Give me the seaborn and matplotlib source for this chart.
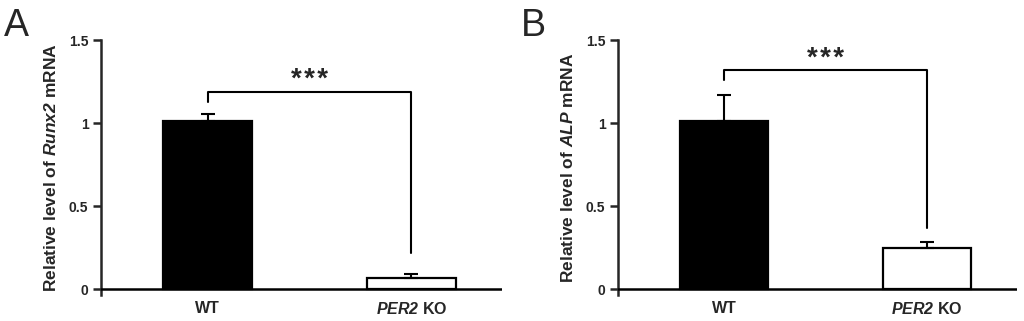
import seaborn as sns
import matplotlib.pyplot as plt
import numpy as np
import pandas as pd

# Dados
grupos = ['WT', 'PER2 KO']
grupos_rotulos = ['WT', r'$\mathbfit{PER2}$ KO']
runx2_media = [1.01, 0.065]
runx2_erro = [0.045, 0.028]
alp_media = [1.01, 0.25]
alp_erro = [0.16, 0.035]
yticks = [0, 0.5, 1, 1.5]
yticks_rotulos = ['0', '0.5', '1', '1.5']
# altura do colchete, ponta esquerda, ponta direita
colchete_runx2 = [1.19, 1.13, 0.22]
colchete_alp = [1.32, 1.26, 0.37]

sns.set_style('ticks')
plt.rcParams['font.family'] = ['Liberation Sans', 'DejaVu Sans']
plt.rcParams['mathtext.fontset'] = 'custom'
plt.rcParams['mathtext.bfit'] = 'Liberation Sans:bold:italic'


def painel(ax, medias, erros, colchete, rotulo_y, letra):
    df = pd.DataFrame({'grupo': grupos, 'valor': medias})
    sns.barplot(data=df, x='grupo', y='valor', hue='grupo', palette=['black', 'white'],
                edgecolor='black', linewidth=1.6, width=0.437, errorbar=None,
                legend=False, ax=ax)
    # Barra de erro só para cima
    ax.errorbar(range(len(grupos)), medias, yerr=[np.zeros(len(erros)), erros],
                fmt='none', ecolor='black', elinewidth=1.5, capsize=4.7, capthick=1.5)

    # Colchete de significância
    h, y_esq, y_dir = colchete
    ax.plot([0, 0, 1, 1], [y_esq, h, h, y_dir], color='black', lw=1.5)
    ax.text(0.5, h - 0.01, '*\u200a*\u200a*', ha='center', va='bottom', fontsize=20,
            fontweight='bold')

    ax.set_xlim(-0.523, 1.445)
    ax.set_ylim(-0.035, 1.5)
    ax.axhline(0, color='black', lw=1.8, zorder=5)
    sns.despine(ax=ax, bottom=True)
    ax.spines['left'].set_linewidth(1.8)
    ax.set_yticks(yticks)
    ax.set_yticklabels(yticks_rotulos, fontsize=10, fontweight='bold')
    ax.set_xticks(range(len(grupos)))
    ax.set_xticklabels(grupos_rotulos, fontsize=11.5, fontweight='bold')
    ax.tick_params(axis='y', length=6, width=1.8, pad=3)
    ax.tick_params(axis='x', length=0, pad=4)
    ax.set_xlabel('')
    ax.set_ylabel(rotulo_y, fontsize=12.5, fontweight='bold', labelpad=7)
    ax.figure.text(ax.get_position().x0 - 0.095, 0.975, letra, fontsize=27,
                   ha='left', va='top')


fig = plt.figure(figsize=(10.24, 3.21), dpi=100)
ax1 = fig.add_axes([0.0986, 0.081, 0.3916, 0.794])
ax2 = fig.add_axes([0.6035, 0.081, 0.39, 0.794])

painel(ax1, runx2_media, runx2_erro, colchete_runx2,
       r'Relative level of $\mathbfit{Runx2}$ mRNA', 'A')
painel(ax2, alp_media, alp_erro, colchete_alp,
       r'Relative level of $\mathbfit{ALP}$ mRNA', 'B')

fig.savefig('out.png', dpi=100)
